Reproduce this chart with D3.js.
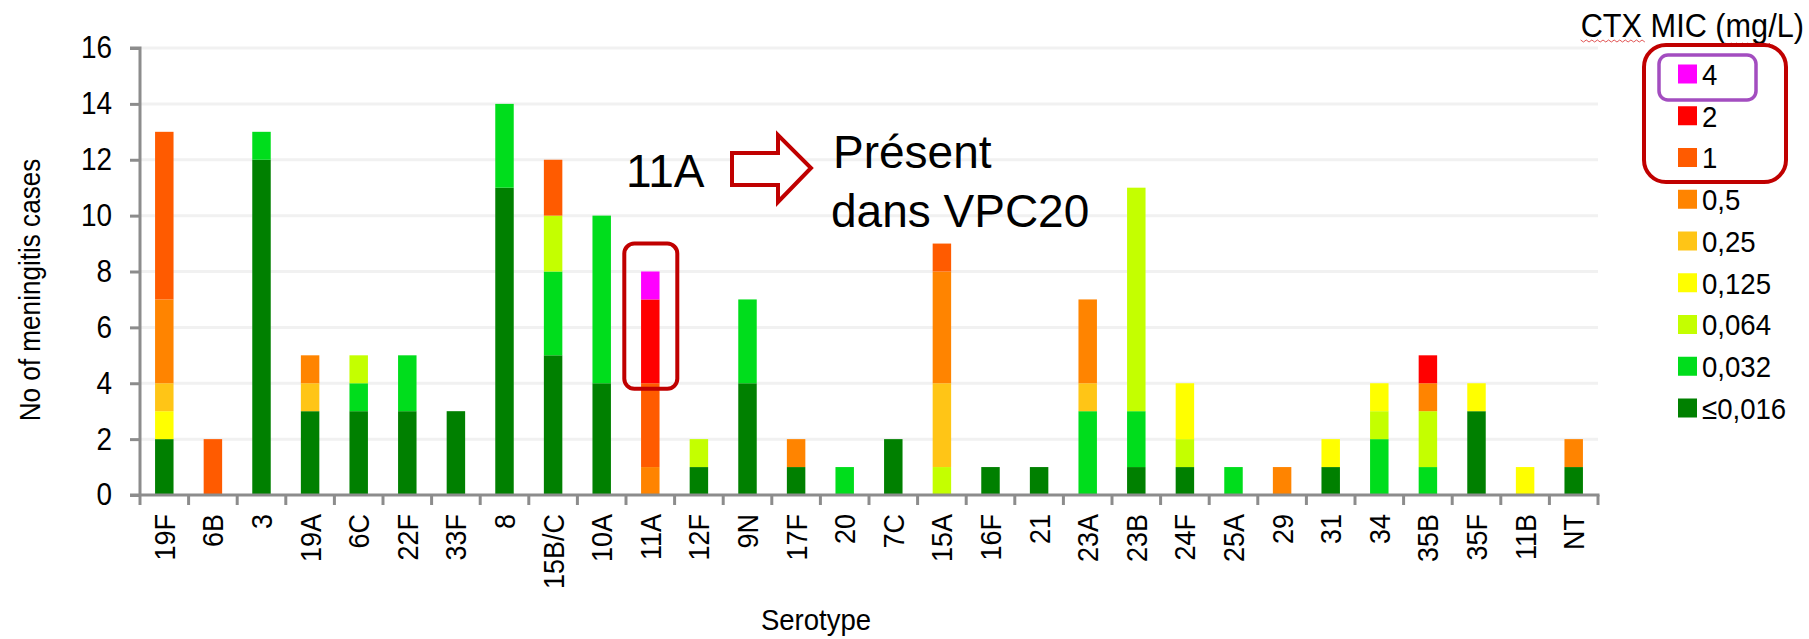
<!DOCTYPE html>
<html>
<head>
<meta charset="utf-8">
<script src="https://cdn.jsdelivr.net/npm/d3@7"></script>
<style>
  html, body { margin: 0; padding: 0; background: #fff; }
  svg { display: block; }
  .narrow { font-family: "Liberation Sans", Arial, sans-serif; }
  .reg { font-family: "Liberation Sans", Arial, sans-serif; }
</style>
</head>
<body>
<svg id="chart" width="1809" height="639"></svg>
<script>
// ---------- DATA ----------
const categories = ["19F","6B","3","19A","6C","22F","33F","8","15B/C","10A","11A","12F","9N","17F","20","7C","15A","16F","21","23A","23B","24F","25A","29","31","34","35B","35F","11B","NT"];
const micLevels = ["≤0,016","0,032","0,064","0,125","0,25","0,5","1","2","4"];
const micColors = ["#008000","#00dd1c","#c4ff00","#ffff00","#ffc516","#ff8400","#ff5b00","#ff0000","#ff00ff"];
//                 19F 6B 3 19A 6C 22F 33F 8 15B 10A 11A 12F 9N 17F 20 7C 15A 16F 21 23A 23B 24F 25A 29 31 34 35B 35F 11B NT
const mic_le0016 = [2, 0, 12, 3, 3, 3, 3, 11, 5, 4, 0, 1, 4, 1, 0, 2, 0, 1, 1, 0, 1, 1, 0, 0, 1, 0, 0, 3, 0, 1];
const mic_0032   = [0, 0, 1, 0, 1, 2, 0, 3, 3, 6, 0, 0, 3, 0, 1, 0, 0, 0, 0, 3, 2, 0, 1, 0, 0, 2, 1, 0, 0, 0];
const mic_0064   = [0, 0, 0, 0, 1, 0, 0, 0, 2, 0, 0, 1, 0, 0, 0, 0, 1, 0, 0, 0, 8, 1, 0, 0, 0, 1, 2, 0, 0, 0];
const mic_0125   = [1, 0, 0, 0, 0, 0, 0, 0, 0, 0, 0, 0, 0, 0, 0, 0, 0, 0, 0, 0, 0, 2, 0, 0, 1, 1, 0, 1, 1, 0];
const mic_025    = [1, 0, 0, 1, 0, 0, 0, 0, 0, 0, 0, 0, 0, 0, 0, 0, 3, 0, 0, 1, 0, 0, 0, 0, 0, 0, 0, 0, 0, 0];
const mic_05     = [3, 0, 0, 1, 0, 0, 0, 0, 0, 0, 1, 0, 0, 1, 0, 0, 4, 0, 0, 3, 0, 0, 0, 1, 0, 0, 1, 0, 0, 1];
const mic_1      = [6, 2, 0, 0, 0, 0, 0, 0, 2, 0, 3, 0, 0, 0, 0, 0, 1, 0, 0, 0, 0, 0, 0, 0, 0, 0, 0, 0, 0, 0];
const mic_2      = [0, 0, 0, 0, 0, 0, 0, 0, 0, 0, 3, 0, 0, 0, 0, 0, 0, 0, 0, 0, 0, 0, 0, 0, 0, 0, 1, 0, 0, 0];
const mic_4      = [0, 0, 0, 0, 0, 0, 0, 0, 0, 0, 1, 0, 0, 0, 0, 0, 0, 0, 0, 0, 0, 0, 0, 0, 0, 0, 0, 0, 0, 0];
const seriesValues = [mic_le0016, mic_0032, mic_0064, mic_0125, mic_025, mic_05, mic_1, mic_2, mic_4];
const yTicks = [0, 2, 4, 6, 8, 10, 12, 14, 16];
const yTitle = "No of meningitis cases";
const xTitle = "Serotype";
const legendTitle = "CTX MIC (mg/L)";
const highlightCat = "11A";
const noteLabel = "11A";
const noteLines = ["Présent", "dans VPC20"];

// ---------- LAYOUT ----------
const svg = d3.select("#chart");
const axisColor = "#8c8c8c";
const darkRed = "#c00000";
const X0 = 140, X1 = 1598, Y0 = 495, Y1 = 48;

const x = d3.scaleBand().domain(categories).range([X0, X1]).paddingInner(0.62).paddingOuter(0.31);
const y = d3.scaleLinear().domain([0, 16]).range([Y0, Y1]);

const table = categories.map((c, i) => {
  const row = { cat: c };
  micLevels.forEach((m, k) => row[m] = seriesValues[k][i]);
  return row;
});
const stacked = d3.stack().keys(micLevels)(table);

// gridlines
svg.append("g").selectAll("line").data(yTicks.filter(d => d > 0)).join("line")
  .attr("x1", X0).attr("x2", X1)
  .attr("y1", d => y(d)).attr("y2", d => y(d))
  .attr("stroke", "#f1f1f1").attr("stroke-width", 3);

// bars
svg.append("g").selectAll("g").data(stacked).join("g")
  .attr("fill", (d, k) => micColors[k])
  .selectAll("rect").data(d => d.filter(s => s[1] - s[0] > 0)).join("rect")
  .attr("x", d => x(d.data.cat))
  .attr("width", x.bandwidth())
  .attr("y", d => y(d[1]))
  .attr("height", d => y(d[0]) - y(d[1]));

// y axis
const yAxis = svg.append("g").attr("transform", `translate(${X0},0)`)
  .call(d3.axisLeft(y).tickValues(yTicks).tickSize(10).tickPadding(0));
yAxis.select(".domain").attr("stroke", axisColor).attr("stroke-width", 3)
  .attr("d", `M-10,${Y1}H0V${Y0}`);
yAxis.selectAll(".tick line").attr("stroke", axisColor).attr("stroke-width", 3);
yAxis.selectAll(".tick text").attr("class", "narrow").attr("font-size", 31).attr("fill", "#000")
  .attr("x", 0).attr("transform", "translate(-28,0) scale(0.9,1)");

// x axis
const xAxis = svg.append("g").attr("transform", `translate(0,${Y0})`)
  .call(d3.axisBottom(x).tickSize(0).tickPadding(0));
xAxis.select(".domain").remove();
xAxis.append("line").attr("x1", X0 - 10).attr("x2", X1 + 1.5).attr("y1", 0).attr("y2", 0)
  .attr("stroke", axisColor).attr("stroke-width", 3);
const boundaries = d3.range(categories.length + 1).map(i => X0 + i * x.step());
xAxis.append("g").selectAll("line").data(boundaries).join("line")
  .attr("x1", d => d).attr("x2", d => d).attr("y1", 0).attr("y2", 10)
  .attr("stroke", axisColor).attr("stroke-width", 3);
xAxis.selectAll(".tick text")
  .attr("class", "narrow").attr("font-size", 29).attr("fill", "#000")
  .attr("text-anchor", "end")
  .attr("transform", "translate(0,19) rotate(-90) scale(0.93,1)")
  .attr("x", 0).attr("y", 0).attr("dy", "0.36em");

// axis titles
svg.append("text").attr("class", "narrow").attr("font-size", 29)
  .attr("transform", `translate(40,290) rotate(-90) scale(0.9,1)`)
  .attr("text-anchor", "middle").text(yTitle);
svg.append("text").attr("class", "narrow").attr("font-size", 29)
  .attr("transform", `translate(816,630) scale(0.95,1)`)
  .attr("text-anchor", "middle").text(xTitle);

// legend
const lg = svg.append("g");
const ltG = lg.append("g").attr("transform", "translate(1804,37) scale(0.93,1)");
const lt = ltG.append("text").attr("class", "narrow").attr("font-size", 33)
  .attr("x", 0).attr("y", 0).attr("text-anchor", "end").text(legendTitle);
const legOrder = micLevels.map((m, k) => ({ m, c: micColors[k] })).reverse();
const rowY = i => 74 + i * 41.75;
lg.selectAll("rect.sw").data(legOrder).join("rect").attr("class", "sw")
  .attr("x", 1678).attr("y", (d, i) => rowY(i) - 9.5).attr("width", 19).attr("height", 19)
  .attr("fill", d => d.c);
lg.selectAll("text.lab").data(legOrder).join("text").attr("class", "lab narrow")
  .attr("font-size", 30).attr("x", 0).attr("y", 0).attr("dy", "0.36em")
  .attr("transform", (d, i) => `translate(1702,${rowY(i)}) scale(0.92,1)`)
  .text(d => d.m);
// spell-check squiggles (in title's local coords)
try {
  const node = lt.node();
  const start = node.getStartPositionOfChar(0).x;
  const ctxW = node.getSubStringLength(0, 3);
  const mgS = node.getStartPositionOfChar(9).x;
  const mgW = node.getSubStringLength(9, 2);
  const squiggle = (xa, xb, yy) => {
    let p = `M${xa},${yy}`;
    for (let xx = xa, k = 0; xx < xb; xx += 3, k++) p += `L${xx + 3},${yy + (k % 2 ? 0 : 2)}`;
    return p;
  };
  ltG.append("path").attr("d", squiggle(start, start + ctxW, 3)).attr("stroke", "#e05050").attr("fill", "none").attr("stroke-width", 1);
  ltG.append("path").attr("d", squiggle(mgS, mgS + mgW, 6)).attr("stroke", "#e05050").attr("fill", "none").attr("stroke-width", 1);
} catch (e) {}
// highlight boxes in legend
lg.append("rect").attr("x", 1644).attr("y", 45).attr("width", 142).attr("height", 137)
  .attr("rx", 22).attr("fill", "none").attr("stroke", darkRed).attr("stroke-width", 4);
lg.append("rect").attr("x", 1659).attr("y", 55).attr("width", 97).attr("height", 45)
  .attr("rx", 9).attr("fill", "none").attr("stroke", "#a34dc0").attr("stroke-width", 3.5);

// annotation: box around 11A bar
const hx = x(highlightCat) + x.bandwidth() / 2;
svg.append("rect").attr("x", hx - 26).attr("y", y(9.0)).attr("width", 53).attr("height", y(3.8) - y(9.0))
  .attr("rx", 10).attr("fill", "none").attr("stroke", darkRed).attr("stroke-width", 4);
svg.append("text").attr("class", "reg").attr("font-size", 46).attr("x", 626).attr("y", 187).text(noteLabel);
svg.append("path")
  .attr("d", "M732,153 L778,153 L778,135 L811,168 L778,202 L778,185 L732,185 Z")
  .attr("fill", "#fff").attr("stroke", darkRed).attr("stroke-width", 4).attr("stroke-linejoin", "miter");
svg.append("text").attr("class", "reg").attr("font-size", 46).attr("x", 833).attr("y", 168).text(noteLines[0]);
svg.append("text").attr("class", "reg").attr("font-size", 46).attr("x", 831).attr("y", 227).text(noteLines[1]);
</script>
</body>
</html>
